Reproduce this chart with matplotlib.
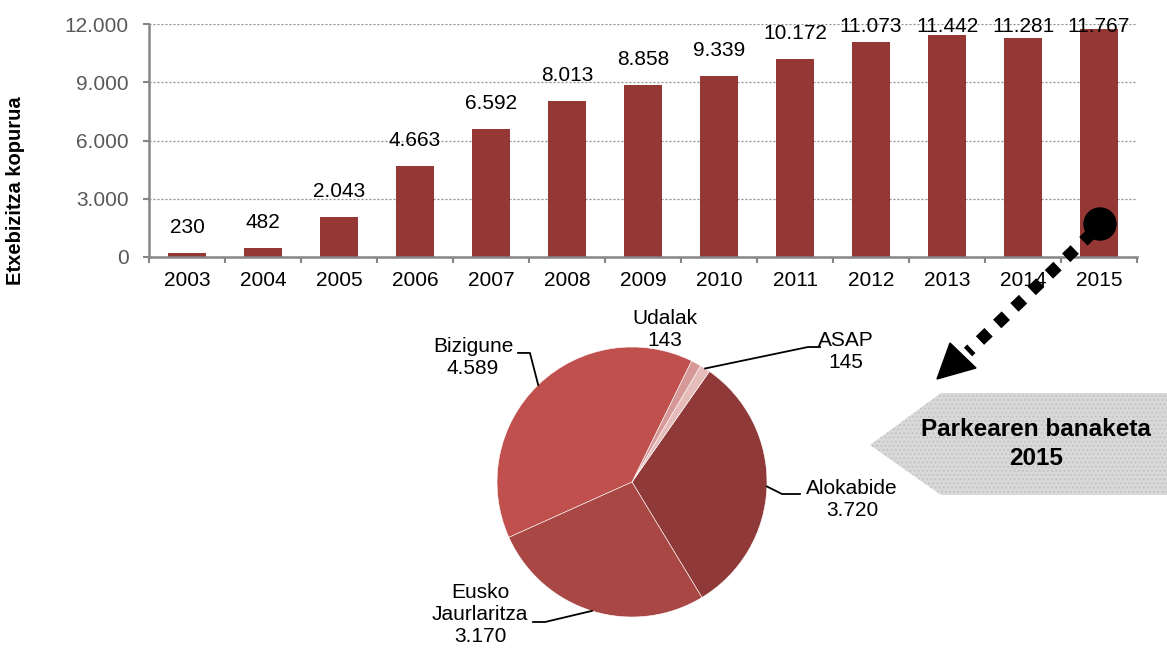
import matplotlib
matplotlib.use("Agg")
import matplotlib.pyplot as plt
import matplotlib.patches as mpatches
import numpy as np

plt.rcParams['font.family'] = ['Liberation Sans', 'DejaVu Sans']

# --- data ---
years = ['2003', '2004', '2005', '2006', '2007', '2008', '2009',
         '2010', '2011', '2012', '2013', '2014', '2015']
dwellings = [230, 482, 2043, 4663, 6592, 8013, 8858,
             9339, 10172, 11073, 11442, 11281, 11767]

# pie order, counter-clockwise from the bottom right
pie_names = ['Alokabide', 'ASAP', 'Udalak', 'Bizigune', 'Eusko\nJaurlaritza']
pie_values = [3720, 145, 143, 4589, 3170]
pie_colors = ['#8F3A38', '#E6BCBB', '#D69998', '#C0504D', '#A94745']

yticks = [0, 3000, 6000, 9000, 12000]


def fmt(v):
    # thousands separator as a dot
    return '{:,}'.format(v).replace(',', '.')


fig = plt.figure(figsize=(11.67, 6.48), dpi=100)
W, H = 1167.0, 648.0

# ---------------- bar chart ----------------
ax = fig.add_axes([149 / W, 1 - 257 / H, (1137 - 149) / W, (257 - 24) / H])
x = np.arange(len(years))
ax.bar(x, dwellings, 0.5, color='#953735', zorder=2)
ax.set_xlim(-0.5, len(years) - 0.5)
ax.set_ylim(0, 12000)
ax.set_yticks(yticks)
ax.set_yticklabels([fmt(v) for v in yticks], color='#595959', fontsize=15)
ax.set_xticks(x)
ax.set_xticklabels(years, fontsize=15)
ax.set_xticks(np.arange(len(years) + 1) - 0.5, minor=True)
ax.tick_params(axis='x', which='major', length=0, pad=10)
ax.tick_params(axis='x', which='minor', length=4.5, width=1.5, color='#868686')
ax.tick_params(axis='y', length=4.5, width=1.5, color='#868686', pad=10)
ax.grid(axis='y', linestyle=(0, (1.6, 1.6)), color='#8C8C8C', linewidth=0.9, zorder=0)
for s in ['top', 'right']:
    ax.spines[s].set_visible(False)
for s in ['left', 'bottom']:
    ax.spines[s].set_color('#868686')
    ax.spines[s].set_linewidth(1.8)

# value labels, kept inside the plot area at the top
off = 1030
cap = 11590
for xi, v in zip(x, dwellings):
    ax.text(xi, min(v + off, cap), fmt(v), ha='center', va='baseline',
            fontsize=15, color='black', zorder=3)

fig.text(16 / W, 1 - 191 / H, 'Etxebizitza kopurua', rotation=90,
         ha='center', va='center', fontsize=14.5, fontweight='bold')

# ---------------- pie chart ----------------
R = 135.0
cx, cy = 632.0, 482.0
pax = fig.add_axes([(cx - R) / W, 1 - (cy + R) / H, 2 * R / W, 2 * R / H])
wedges, _ = pax.pie(pie_values, colors=pie_colors, startangle=-58.8,
                    counterclock=True,
                    wedgeprops=dict(edgecolor='white', linewidth=0.4))
pax.set_xlim(-1, 1)
pax.set_ylim(-1, 1)
pax.set_aspect('equal')
pax.axis('off')

# label position, leader elbow and leader end (in pie radius units)
label_pos = {
    'Alokabide': ((1.63, -0.133), (1.111, -0.089), (1.244, -0.089)),
    'ASAP': ((1.585, 0.963), (1.304, 1.0), (1.393, 1.0)),
    'Udalak': ((0.244, 1.133), None, None),
    'Bizigune': ((-1.178, 0.919), (-0.756, 0.956), (-0.844, 0.956)),
    'Eusko\nJaurlaritza': ((-1.126, -0.985), (-0.644, -1.037), (-0.733, -1.037)),
}
for w, name, val in zip(wedges, pie_names, pie_values):
    ang = np.deg2rad((w.theta1 + w.theta2) / 2)
    ex, ey = np.cos(ang), np.sin(ang)
    (lx, ly), elbow, end = label_pos[name]
    pax.text(lx, ly, name + '\n' + fmt(val), ha='center', va='center',
             fontsize=15, linespacing=1.2, clip_on=False)
    if elbow is not None:
        pax.plot([ex, elbow[0], end[0]], [ey, elbow[1], end[1]],
                 color='black', linewidth=1.3, clip_on=False)

# ---------------- callout: dot, dotted arrow and banner ----------------
ov = fig.add_axes([0, 0, 1, 1], zorder=5)
ov.set_xlim(0, W)
ov.set_ylim(H, 0)
ov.axis('off')
ov.patch.set_alpha(0)

ov.add_patch(mpatches.Circle((1100, 224), 16, color='black'))
ov.plot([1092, 968], [233, 352], color='black', linewidth=8.6,
        linestyle=(0, (1, 1)), dash_capstyle='butt')
ov.add_patch(mpatches.Polygon([(937, 379), (950, 343), (976, 368)],
                              closed=True, color='black'))

banner = mpatches.Polygon([(870, 445), (941, 393), (1167, 393), (1167, 495), (941, 495)],
                          closed=True, facecolor='#D9D9D9', edgecolor='#C4C4C4',
                          linewidth=0, hatch='....')
ov.add_patch(banner)
ov.text(1036, 444, 'Parkearen banaketa\n2015', ha='center', va='center',
        fontsize=17.5, fontweight='bold', linespacing=1.35,
        family=['Liberation Sans Narrow', 'Liberation Sans'])

fig.savefig('out.png', dpi=100)
